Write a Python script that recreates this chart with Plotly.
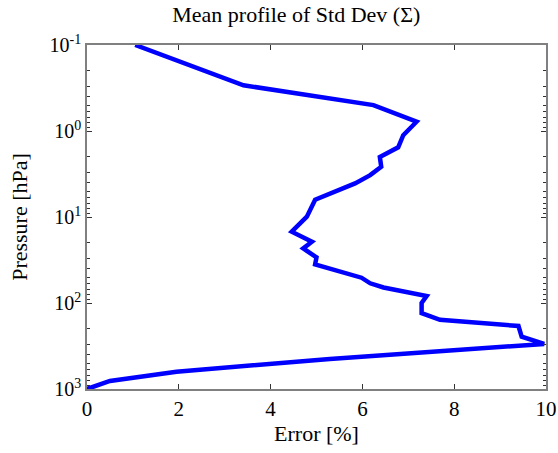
import plotly.graph_objects as go

error_pct = [1.05, 3.41, 6.24, 7.18, 6.89, 6.78, 6.38, 6.41, 6.17, 5.84, 4.97,
             4.79, 4.46, 4.90, 4.71, 5.00, 4.97, 5.98, 6.17, 6.46, 7.40, 7.29, 7.29, 7.69,
             9.40, 9.47, 9.96, 5.29, 1.95, 0.50, 0.0]
pressure_hpa = [0.100, 0.294, 0.50, 0.78, 1.12, 1.55, 2.0, 2.6, 3.26, 4.07, 6.3,
                9.9, 14.8, 19.4, 23.2, 29.5, 35.5, 50.8, 59, 66, 83, 100, 131, 157,
                185, 246, 299, 447, 630, 805, 1000]

x_ticks = [0, 2, 4, 6, 8, 10]
y_ticks = [0.1, 1, 10, 100, 1000]
y_ticktext = ["10<sup>-1</sup>", "10<sup>0</sup>", "10<sup>1</sup>", "10<sup>2</sup>", "10<sup>3</sup>"]
y_minor = [m * 10.0 ** e for e in range(-1, 3) for m in range(2, 10)]

fig = go.Figure()
fig.add_trace(go.Scatter(x=error_pct, y=pressure_hpa, mode="lines",
                         line=dict(color="#0000ff", width=4.5), showlegend=False))

font_family = "Liberation Serif, Times New Roman, serif"
fig.update_layout(
    width=558, height=453,
    margin=dict(l=87, r=12, t=45, b=64, autoexpand=False),
    paper_bgcolor="white", plot_bgcolor="white",
    font=dict(family=font_family, size=20, color="black"),
    title=dict(text="Mean profile of Std Dev (Σ)", x=0.531, xanchor="center",
               y=0.969, yanchor="middle", font=dict(size=22), automargin=False),
)
fig.update_xaxes(range=[0, 10], tickvals=x_ticks, ticks="inside", ticklen=5,
                 tickcolor="#333", showline=True, linecolor="#808080", linewidth=1.5,
                 mirror="ticks", showgrid=False, zeroline=False, automargin=False,
                 title=dict(text="Error [%]", standoff=4, font=dict(size=22)),
                 tickfont=dict(size=21))
fig.update_yaxes(type="log", range=[3, -1], tickvals=y_ticks, ticktext=y_ticktext,
                 ticks="inside", ticklen=5, tickcolor="#333", showline=True,
                 linecolor="#808080", linewidth=1.5, mirror="ticks", showgrid=False,
                 zeroline=False, automargin=False,
                 title=dict(text="Pressure [hPa]", standoff=16, font=dict(size=22)),
                 tickfont=dict(size=20),
                 minor=dict(tickvals=y_minor, ticks="inside", ticklen=3,
                            tickcolor="#333", showgrid=False))

fig.write_html("out.html")
